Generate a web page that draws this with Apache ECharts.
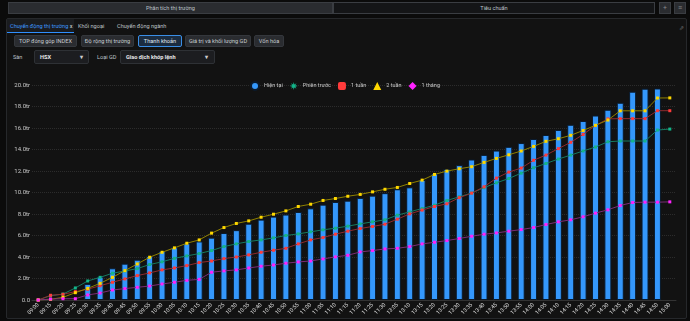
<!DOCTYPE html>
<html><head><meta charset="utf-8">
<script src="https://cdn.jsdelivr.net/npm/echarts@6/dist/echarts.min.js"></script>
<style>
html,body{margin:0;padding:0;background:#0b0b0b;width:690px;height:321px;overflow:hidden;font-family:Roboto,"Noto Sans",sans-serif;}
.abs{position:absolute;box-sizing:border-box;}
.txt{font-size:5.6px;color:#bfc3c8;white-space:nowrap;}
#t1{left:8px;top:2px;width:325px;height:12px;background:#2a2c30;border:1px solid #3a3d42;text-align:center;line-height:10px;}
#t2{left:333px;top:2px;width:322px;height:12px;background:#141517;border:1px solid #3a3d42;text-align:center;line-height:10px;}
.ib{top:2px;width:12px;height:12px;background:#2a2c30;border:1px solid #3a3d42;text-align:center;line-height:10px;color:#888;font-size:7px;}
#panel{left:6px;top:18px;width:681px;height:301px;background:#121212;border:1px solid #26282b;border-radius:2px;}
.tab{top:19px;height:14px;line-height:14px;}
.btn{top:35px;height:12px;line-height:10px;background:#2a2c30;border:1px solid #34373c;border-radius:2px;text-align:center;color:#c8ccd0;}
.dd{top:50px;height:14px;line-height:12px;background:#1c1d20;border:1px solid #2e3135;border-radius:2px;color:#e8e8e8;font-weight:bold;padding-left:5px;}
</style></head>
<body>
<div class="abs txt" id="t1">Phân tích thị trường</div>
<div class="abs txt" id="t2">Tiêu chuẩn</div>
<div class="abs ib" style="left:659px">+</div>
<div class="abs ib" style="left:674px">≡</div>
<div class="abs" id="panel"></div>
<div class="abs txt tab" style="left:7px;width:67px;background:#1a1c1f;color:#3d9bff;padding-left:3px;border-bottom:1px solid #2f8fff;">Chuyển động thị trường <span style="color:#ddd">x</span></div>
<div class="abs txt tab" style="left:78px;">Khối ngoại</div>
<div class="abs txt tab" style="left:117px;">Chuyển động ngành</div>
<div class="abs txt" style="left:679px;top:24px;color:#777;font-size:6px;">⇗</div>
<div class="abs txt btn" style="left:14px;width:63px;">TOP đóng góp INDEX</div>
<div class="abs txt btn" style="left:81px;width:53px;">Độ rộng thị trường</div>
<div class="abs txt btn" style="left:138px;width:44px;background:#1b2c40;border-color:#3a8ee6;color:#e0e8f0;">Thanh khoản</div>
<div class="abs txt btn" style="left:185px;width:66px;">Giá trị và khối lượng GD</div>
<div class="abs txt btn" style="left:254px;width:30px;">Vốn hóa</div>
<div class="abs txt" style="left:13px;top:54px;">Sàn</div>
<div class="abs txt dd" style="left:34px;width:55px;">HSX<span style="position:absolute;left:45px;color:#ccc">▾</span></div>
<div class="abs txt" style="left:97px;top:54px;">Loại GD</div>
<div class="abs txt dd" style="left:120px;width:95px;">Giao dịch khớp lệnh<span style="position:absolute;left:84px;color:#ccc">▾</span></div>
<div class="abs" id="chart" style="left:0;top:68px;width:690px;height:251px;"></div>
<script>
const categories = ['09:00','09:15','09:20','09:25','09:30','09:35','09:40','09:45','09:50','09:55','10:00','10:05','10:10','10:15','10:20','10:25','10:30','10:35','10:40','10:45','10:50','10:55','11:00','11:05','11:10','11:15','11:20','11:25','11:30','13:05','13:10','13:15','13:20','13:25','13:30','13:35','13:40','13:45','13:50','13:55','14:00','14:05','14:10','14:15','14:20','14:25','14:30','14:35','14:40','14:45','14:50','15:00'];
const hienTai = [null,null,null,null,1.5,2.17,2.95,3.38,3.75,4.09,4.56,4.9,5.27,5.45,5.8,6.23,6.5,7.1,7.48,7.76,7.95,8.19,8.53,8.87,9.12,9.24,9.5,9.71,9.94,10.3,10.48,11.17,11.77,12.18,12.55,13.07,13.5,13.9,14.25,14.6,14.98,15.35,15.82,16.3,16.65,17.16,17.7,18.35,19.38,19.66,19.68,null];
const phienTruoc = [0,0.4,0.55,1.12,1.77,2.11,2.49,2.7,2.92,3.3,3.55,3.88,4.1,4.32,4.6,4.97,5.22,5.44,5.59,5.78,6.0,6.15,6.34,6.53,6.68,6.87,7.08,7.27,7.46,7.89,8.2,8.51,8.82,9.26,9.6,9.95,10.45,10.9,11.3,11.8,12.3,12.7,13.11,13.48,13.86,14.23,14.72,14.79,14.79,14.79,15.81,15.9];
const motTuan = [0,0.44,0.53,0.78,1.0,1.33,1.65,1.96,2.27,2.52,2.8,2.98,3.2,3.48,3.63,3.85,4.0,4.2,4.44,4.63,4.81,5.22,5.59,5.81,6.12,6.4,6.65,6.84,7.05,7.52,8.01,8.36,8.7,8.95,9.52,9.94,10.53,11.34,11.9,12.27,13.0,13.48,14.08,14.67,15.4,16.23,16.85,16.87,16.87,16.87,17.61,17.61];
const haiTuan = [0,0.06,0.25,0.68,1.08,1.55,2.11,2.73,3.35,3.98,4.44,4.85,5.28,5.59,6.22,6.74,7.12,7.36,7.7,7.98,8.29,8.7,8.91,9.26,9.44,9.65,9.82,10.06,10.3,10.47,10.84,11.15,11.68,11.99,12.21,12.4,12.8,13.17,13.51,13.86,14.29,14.76,15.0,15.32,15.77,16.25,16.74,17.6,17.6,17.6,18.79,18.8];
const motThang = [0,0.09,0.12,0.12,0.47,0.65,0.93,1.06,1.18,1.3,1.49,1.65,1.83,1.92,2.58,2.71,2.8,2.98,3.14,3.26,3.42,3.54,3.63,3.82,4.01,4.16,4.47,4.6,4.75,4.81,4.97,5.22,5.37,5.53,5.72,5.93,6.12,6.24,6.4,6.55,6.74,7.02,7.27,7.46,7.74,8.08,8.39,8.79,9.07,9.1,9.1,9.13];
const yTicks = {min:0, max:20, interval:2};

const starPath = 'path://M5,0 L5.8,3.1 L8.5,1.5 L6.9,4.2 L10,5 L6.9,5.8 L8.5,8.5 L5.8,6.9 L5,10 L4.2,6.9 L1.5,8.5 L3.1,5.8 L0,5 L3.1,4.2 L1.5,1.5 L4.2,3.1 Z';
function lineSeries(name, data, color, lineColor){
  return {name, type:'line', data, symbol:'rect', symbolSize:3, showSymbol:true,
    itemStyle:{color}, lineStyle:{color:lineColor, width:1}, z:3, animation:false};
}
const chart = echarts.init(document.getElementById('chart'));
chart.setOption({
  backgroundColor:'transparent',
  animation:false,
  textStyle:{fontFamily:'Roboto'},
  legend:{top:8, left:'center', itemWidth:8, itemHeight:8, itemGap:7,
    textStyle:{color:'#c8c8c8', fontSize:5.5},
    data:[{name:'Hiện tại', icon:'circle'},{name:'Phiên trước', icon:starPath},{name:'1 tuần', icon:'roundRect'},{name:'2 tuần', icon:'triangle'},{name:'1 tháng', icon:'diamond'}]},
  grid:{left:32, right:14, top:17, bottom:19, containLabel:false},
  xAxis:{type:'category', data:categories, boundaryGap:true,
    axisLine:{lineStyle:{color:'#333'}}, axisTick:{show:false},
    axisLabel:{color:'#d8d8d8', fontSize:5.5, rotate:45, interval:0, margin:4}},
  yAxis:{type:'value', min:yTicks.min, max:yTicks.max, interval:yTicks.interval,
    axisLine:{show:false}, axisTick:{show:false},
    axisLabel:{color:'#c8c8c8', fontSize:6, margin:2, formatter:v=> v===0 ? '0.0' : v.toFixed(1)+'tr'},
    splitLine:{lineStyle:{color:'#2c2c2c', type:'dotted'}}},
  series:[
    {name:'Hiện tại', type:'bar', data:hienTai, barWidth:7, itemStyle:{color:'#3497fb', borderColor:'#0a1a2c', borderWidth:1}, z:2},
    lineSeries('Phiên trước', phienTruoc, '#13b58a', '#167a62'),
    lineSeries('1 tuần', motTuan, '#ff3b3b', '#8f2a2e'),
    lineSeries('2 tuần', haiTuan, '#ffd800', '#8f8000'),
    lineSeries('1 tháng', motThang, '#ff22ff', '#7a2c78')
  ]
});
</script>
</body></html>
